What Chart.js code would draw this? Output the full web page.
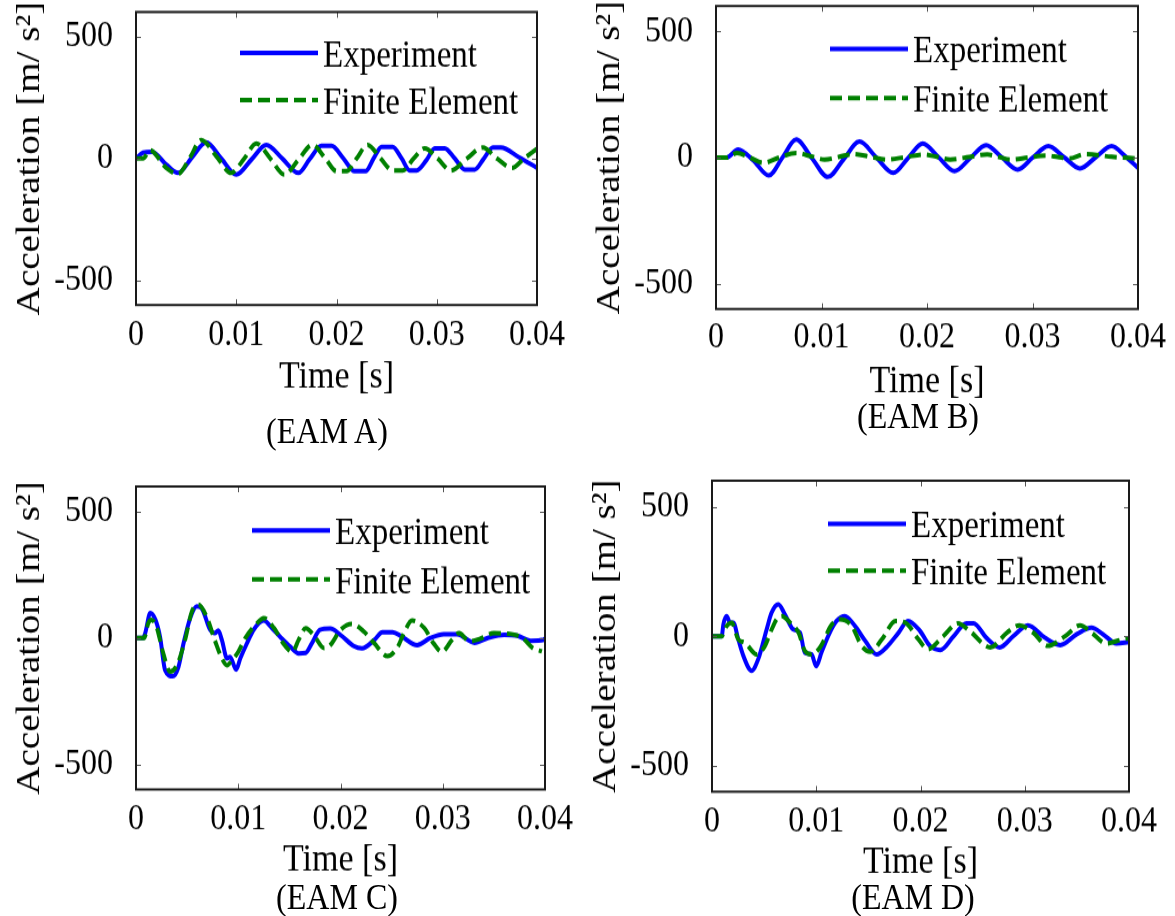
<!DOCTYPE html>
<html>
<head>
<meta charset="utf-8">
<script src="https://cdn.jsdelivr.net/npm/chart.js@4.4.1/dist/chart.umd.min.js"></script>
<style>
    body {
        margin: 0;
        background: #fff;
        width: 1175px;
        height: 916px;
        overflow: hidden;
        font-family: "Liberation Serif", "Times New Roman", serif;
    }
    #stage {
        position: relative;
        width: 1175px;
        transform-origin: 0 0;
    }
    canvas { position: absolute; }
    .cap {
        position: absolute;
        font-size: 32px;
        line-height: 1;
        white-space: nowrap;
        transform: translate(-50%, -50%);
        color: #000;
    }
</style>
</head>
<body>
<div id="stage">
    <canvas id="chartA"></canvas>
    <canvas id="chartB"></canvas>
    <canvas id="chartC"></canvas>
    <canvas id="chartD"></canvas>
    <div class="cap" id="capA"></div>
    <div class="cap" id="capB"></div>
    <div class="cap" id="capC"></div>
    <div class="cap" id="capD"></div>
</div>

<script>
/* ===========================
   DATA  (time in ms, acceleration in m/s^2)
=========================== */
const xTicks = [0, 10, 20, 30, 40];
const xTickLabels = ['0', '0.01', '0.02', '0.03', '0.04'];
const yTicks = [-500, 0, 500];
const yRange = [-600, 600];
const seriesLabels = ['Experiment', 'Finite Element'];
const captions = ['(EAM A)', '(EAM B)', '(EAM C)', '(EAM D)'];

const expA = [[0,0],[0.7,24],[1.6,28],[3.0,-24],[4.2,-59],[5.6,5],[7.0,66],[8.5,0],[10.0,-66],[11.5,-5],
    [13.0,56],[14.6,0],[16.2,-59],[17.3,-4],[18.5,52],[19.5,52],[20.7,0],[21.8,-52],[22.9,-52],[23.7,0],
    [24.5,48],[25.6,48],[26.5,0],[27.3,-49],[28.0,-49],[29.0,-5],[29.8,42],[30.8,42],[31.8,0],[32.8,-45],
    [33.8,-45],[34.7,0],[35.6,45],[36.4,45],[38.2,5],[40.0,-38]];
const feA = [[0,0],[0.7,0],[1.4,34],[3.0,-38],[4.2,-63],[5.4,5],[6.5,76],[8.0,10],[9.5,-59],[10.8,0],
    [12.0,62],[13.4,0],[14.8,-66],[16.2,-5],[17.6,56],[18.9,0],[20.0,-52],[21.0,-52],[22.0,0],[23.1,56],
    [24.4,0],[25.6,-49],[26.6,-49],[27.7,0],[28.8,42],[30.1,0],[31.4,-49],[33.0,0],[34.6,45],[36.0,0],
    [37.5,-38],[38.7,0],[40.0,40]];

const expB = [[0,0],[1.0,0],[2.1,32],[3.5,-10],[5.0,-71],[6.3,0],[7.6,71],[9.1,-3],[10.6,-77],[12.1,-7],
    [13.6,63],[15.2,0],[16.8,-61],[18.2,-2],[19.6,56],[21.1,1],[22.6,-54],[24.1,-2],[25.6,49],[27.1,0],
    [28.6,-48],[30.0,-1],[31.5,45],[33.0,1],[34.5,-43],[36.0,1],[37.5,45],[38.8,5],[40.0,-41]];
const feB = [[0,0],[1.0,0],[2.0,18],[3.2,0],[4.5,-21],[6.0,0],[7.6,18],[9.0,5],[10.3,-8],[11.7,3],
    [13.0,14],[14.6,3],[16.2,-8],[18.0,2],[19.7,12],[21.0,2],[22.2,-8],[24.0,2],[25.7,12],[26.8,2],
    [27.9,-8],[29.6,0],[31.3,8],[32.4,2],[33.5,-4],[35.0,14],[37.5,3],[40.0,-4]];

const expC = [[0,0],[0.7,0],[0.9,19],[1.4,99],[1.9,72],[2.35,5],[2.85,-128],[3.6,-152],[4.15,-115],[4.65,-21],
    [5.3,79],[5.95,125],[6.4,119],[7.25,32],[7.7,19],[8.05,29],[8.4,-8],[8.9,-81],[9.2,-75],[9.8,-125],
    [10.2,-81],[10.85,-21],[11.5,32],[12.5,69],[13.3,39],[14.1,5],[15.1,-35],[15.9,-61],[16.6,-59],[17.2,-21],
    [18.0,32],[19.0,37],[20.0,12],[21.3,-32],[22.1,-41],[23.3,-8],[24.1,23],[25.1,23],[26.0,5],[27.5,-28],
    [28.8,0],[30.1,15],[31.4,15],[33.1,-19],[34.4,0],[36.0,13],[37.3,9],[38.6,-11],[39.9,-7],[40.0,0]];
const feC = [[0,0],[0.8,0],[1.2,59],[1.5,72],[2.0,45],[2.67,-61],[3.33,-133],[4.0,-108],[4.8,-8],[5.46,105],
    [6.1,132],[6.9,85],[7.7,-8],[8.4,-81],[8.9,-108],[9.4,-88],[10.0,-55],[10.7,0],[11.7,52],[12.5,79],
    [13.5,39],[14.4,-21],[15.3,-55],[15.9,-8],[16.6,39],[17.4,10],[18.4,-40],[19.0,-28],[20.0,32],[21.1,56],
    [22.3,25],[23.3,-21],[24.6,-72],[25.6,-35],[26.2,19],[27.0,69],[28.2,39],[29.1,-21],[29.9,-55],[30.9,-8],
    [31.6,19],[32.6,-13],[33.6,-4],[35.0,19],[36.3,17],[37.8,0],[38.8,-40],[39.7,-53]];

const expD = [[0,0],[0.93,0],[1.09,46],[1.4,78],[1.73,52],[2.05,52],[2.52,-12],[3.0,-75],[3.8,-133],[4.44,-88],
    [5.24,26],[5.72,91],[6.36,123],[7.0,84],[7.8,26],[8.44,14],[8.9,-63],[9.55,-70],[10.0,-115],[10.5,-63],
    [11.3,14],[11.95,59],[12.75,78],[13.7,40],[14.7,-18],[15.8,-70],[16.7,-44],[17.9,14],[18.8,59],[19.94,21],
    [20.9,-37],[21.9,-53],[23.2,1],[24.4,50],[25.1,50],[26.3,-5],[27.6,-43],[28.9,0],[30.3,42],[31.9,-5],
    [33.4,-34],[35.0,8],[36.4,33],[37.5,8],[38.8,-28],[40.0,-22]];
const feD = [[0,0],[0.93,0],[1.4,39],[1.89,52],[2.52,-12],[3.16,-25],[4.28,-70],[5.08,-37],[5.72,26],[6.2,65],
    [6.7,78],[7.5,52],[8.3,14],[8.9,-56],[9.55,-70],[10.35,-44],[11.5,46],[12.27,65],[13.4,40],[14.35,-37],
    [15.2,-60],[16.3,-12],[17.6,59],[18.6,51],[19.8,-12],[20.7,-50],[22.2,1],[23.6,50],[24.7,21],[26.7,-43],
    [28.3,14],[29.5,42],[30.8,14],[32.2,-37],[33.9,1],[35.3,42],[36.4,14],[37.8,-28],[39.4,-12],[40.0,-8]];

/* ===========================
   LAYOUT / STYLE
   (panel positions are given in final page pixels;
    the whole stage is stretched vertically by S like the source figure)
=========================== */
const S = 1.15;
const FONT = "'Liberation Serif', 'Times New Roman', serif";
const BLUE = '#0000ff';
const GREEN = '#008000';
const AXIS_W = 136;
const TOP_PAD = 12;
const RIGHT_PAD = 40;
const BOTTOM_H = 100;

const panels = [
    { id: 'A', exp: expA, fe: feA, plot: { l: 136, t: 12,  r: 537,  b: 305 },
      tickDy: 28, titleDy: 72, legend: { x: 104, y: 41, gap: 47 }, cap: [327, 430] },
    { id: 'B', exp: expB, fe: feB, plot: { l: 716, t: 6,   r: 1138, b: 309 },
      tickDy: 26, titleDy: 73, legend: { x: 114, y: 43, gap: 49 }, cap: [918, 415] },
    { id: 'C', exp: expC, fe: feC, plot: { l: 136, t: 487, r: 545,  b: 790 },
      tickDy: 27, titleDy: 71, legend: { x: 116, y: 44, gap: 49 }, cap: [337, 896] },
    { id: 'D', exp: expD, fe: feD, plot: { l: 712, t: 481, r: 1129, b: 792 },
      tickDy: 28, titleDy: 71, legend: { x: 116, y: 43, gap: 47 }, cap: [913, 896] }
];

const stage = document.getElementById('stage');
stage.style.height = (916 / S) + 'px';
stage.style.transform = 'scaleY(' + S + ')';

/* box + inward tick marks, MATLAB style */
const boxTicks = {
    id: 'boxTicks',
    afterDatasetsDraw(chart) {
        const { ctx, chartArea: a, scales: { x, y } } = chart;
        ctx.save();
        ctx.strokeStyle = '#555';
        ctx.lineWidth = 1;
        const len = 5;
        ctx.beginPath();
        x.ticks.forEach(t => {
            const px = Math.round(x.getPixelForValue(t.value)) + 0.5;
            ctx.moveTo(px, a.bottom); ctx.lineTo(px, a.bottom - len);
            ctx.moveTo(px, a.top); ctx.lineTo(px, a.top + len);
        });
        y.ticks.forEach(t => {
            const py = Math.round(y.getPixelForValue(t.value)) + 0.5;
            ctx.moveTo(a.left, py); ctx.lineTo(a.left + len, py);
            ctx.moveTo(a.right, py); ctx.lineTo(a.right - len, py);
        });
        ctx.stroke();
        ctx.strokeStyle = '#1a1a1a';
        ctx.lineWidth = 2;
        ctx.strokeRect(a.left, a.top, a.right - a.left, a.bottom - a.top);
        ctx.restore();
    }
};

/* legend drawn inside the axes */
const insetLegend = {
    id: 'insetLegend',
    afterDraw(chart, args, opts) {
        const { ctx, chartArea: a } = chart;
        ctx.save();
        ctx.font = '33px ' + FONT;
        ctx.textBaseline = 'middle';
        ctx.fillStyle = '#000';
        seriesLabels.forEach((label, i) => {
            const ds = chart.data.datasets.find(d => d.label === label);
            const x0 = a.left + opts.x;
            const y0 = a.top + (opts.y + i * opts.gap) / S;
            ctx.strokeStyle = ds.borderColor;
            ctx.lineWidth = ds.borderWidth;
            ctx.setLineDash(ds.borderDash || []);
            ctx.beginPath();
            ctx.moveTo(x0, y0);
            ctx.lineTo(x0 + 78, y0);
            ctx.stroke();
            ctx.setLineDash([]);
            ctx.fillText(label, x0 + 83, y0 + 3);
        });
        ctx.restore();
    }
};

function toPoints(pairs) {
    return pairs.map(([t, a]) => ({ x: t, y: a }));
}

/* ===========================
   BUILD CHARTS
=========================== */
panels.forEach((p, idx) => {
    const canvas = document.getElementById('chart' + p.id);
    const top = p.plot.t / S;
    const plotW = p.plot.r - p.plot.l;
    const plotH = (p.plot.b - p.plot.t) / S;
    const padTop = Math.min(TOP_PAD, top);
    const bottomH = BOTTOM_H;
    canvas.width = AXIS_W + plotW + RIGHT_PAD;
    canvas.height = Math.round(padTop + plotH + bottomH);
    canvas.style.left = (p.plot.l - AXIS_W) + 'px';
    canvas.style.top = (top - padTop) + 'px';
    const xAxisH = canvas.height - padTop - plotH;

    const cap = document.getElementById('cap' + p.id);
    cap.textContent = captions[idx];
    cap.style.left = p.cap[0] + 'px';
    cap.style.top = (p.cap[1] / S) + 'px';

    new Chart(canvas, {
        type: 'line',
        data: {
            datasets: [
                {
                    label: seriesLabels[1],
                    data: toPoints(p.fe),
                    borderColor: GREEN,
                    borderWidth: 4,
                    borderDash: [12, 6],
                    pointRadius: 0,
                    cubicInterpolationMode: 'monotone'
                },
                {
                    label: seriesLabels[0],
                    data: toPoints(p.exp),
                    borderColor: BLUE,
                    borderWidth: 4,
                    pointRadius: 0,
                    cubicInterpolationMode: 'monotone'
                }
            ]
        },
        options: {
            responsive: false,
            animation: false,
            layout: { padding: { top: padTop, right: RIGHT_PAD, left: 0, bottom: 0 } },
            plugins: {
                legend: { display: false },
                tooltip: { enabled: false },
                insetLegend: p.legend
            },
            scales: {
                x: {
                    type: 'linear',
                    min: 0,
                    max: 40,
                    afterBuildTicks: s => { s.ticks = xTicks.map(v => ({ value: v })); },
                    afterFit: s => {
                        s.height = xAxisH;
                        s.paddingLeft = 0; s.paddingRight = 0;
                    },
                    grid: { display: false, drawTicks: false, tickLength: 0 },
                    border: { display: false },
                    ticks: {
                        padding: p.tickDy / S - 17,
                        color: '#000',
                        font: { family: FONT, size: 32 },
                        maxRotation: 0,
                        callback: (v, i) => xTickLabels[i]
                    },
                    title: {
                        display: true,
                        text: 'Time [s]',
                        color: '#000',
                        font: { family: FONT, size: 34 },
                        padding: { top: 0, bottom: xAxisH - p.titleDy / S - 20.4 }
                    }
                },
                y: {
                    type: 'linear',
                    min: yRange[0],
                    max: yRange[1],
                    afterBuildTicks: s => { s.ticks = yTicks.map(v => ({ value: v })); },
                    afterFit: s => {
                        s.width = AXIS_W;
                        s.paddingTop = 0; s.paddingBottom = 0;
                    },
                    grid: { display: false, drawTicks: false, tickLength: 0 },
                    border: { display: false },
                    ticks: {
                        padding: 23,
                        color: '#000',
                        font: { family: FONT, size: 32 },
                        callback: v => String(v)
                    },
                    title: {
                        display: true,
                        text: 'Acceleration [m/ s²]',
                        color: '#000',
                        font: { family: FONT, size: 34 },
                        padding: { top: 10, bottom: 0 }
                    }
                }
            }
        },
        plugins: [boxTicks, insetLegend]
    });
});
</script>
</body>
</html>
